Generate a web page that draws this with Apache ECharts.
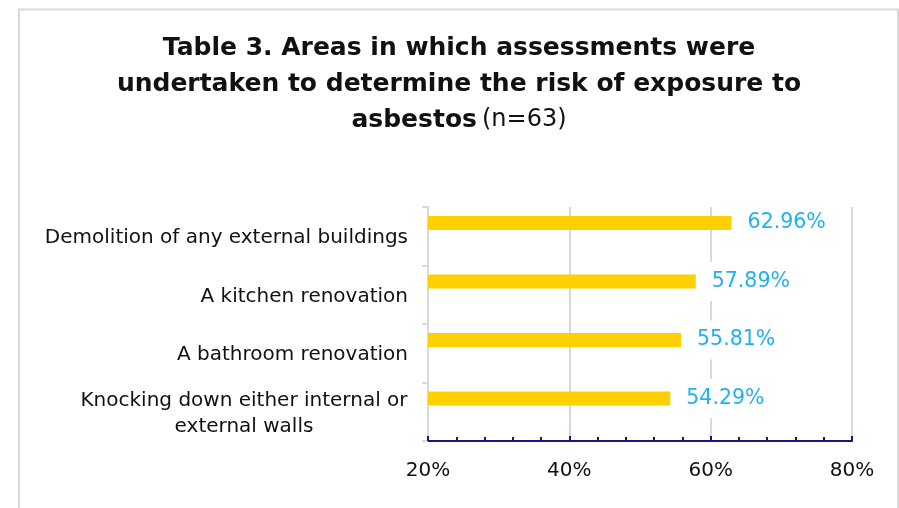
<!DOCTYPE html>
<html>
<head>
<meta charset="utf-8">
<script src="https://cdn.jsdelivr.net/npm/echarts@6/dist/echarts.min.js"></script>
<style>
  html, body { margin: 0; padding: 0; background: #fff; }
  #chart { width: 899px; height: 508px; }
</style>
</head>
<body>
<div id="chart"></div>
<script>
// Areas assessed for asbestos risk (n=63)
const categories = [
  'Demolition of any external buildings',
  'A kitchen renovation',
  'A bathroom renovation',
  'Knocking down either internal or\nexternal walls'
];
const percentValues = [62.96, 57.89, 55.81, 54.29];
const xTicks = [20, 40, 60, 80];

const FONT = '"DejaVu Sans", sans-serif';
const BAR_YELLOW = '#FFD000';
const LABEL_BLUE = '#1FB2EC';
const AXIS_NAVY = '#24107A';
const GRID_GREY = '#D9D9D9';

const chart = echarts.init(document.getElementById('chart'));

chart.setOption({
  animation: false,
  backgroundColor: '#fff',
  graphic: [
    {
      type: 'rect',
      shape: { x: 19, y: 9.5, width: 879, height: 600 },
      style: { fill: 'none', stroke: GRID_GREY, lineWidth: 2 },
      silent: true
    }
  ],
  title: {
    left: 459,
    top: 30,
    textAlign: 'center',
    padding: 0,
    text: '{b|Table 3. Areas in which assessments were}\n' +
          '{b|undertaken to determine the risk of exposure to}\n' +
          '{b|asbestos} {n|(n=63)}',
    textStyle: {
      rich: {
        b: { fontFamily: FONT, fontWeight: 'bold', fontSize: 25, lineHeight: 36, color: '#111' },
        n: { fontFamily: FONT, fontWeight: 'normal', fontSize: 24, lineHeight: 36, color: '#111' }
      }
    }
  },
  grid: {
    left: 428,
    right: 47,
    top: 207,
    bottom: 67
  },
  xAxis: {
    type: 'value',
    min: xTicks[0],
    max: xTicks[xTicks.length - 1],
    interval: 20,
    axisLine: { show: true, lineStyle: { color: AXIS_NAVY, width: 2 } },
    axisTick: { show: true, inside: true, length: 5, lineStyle: { color: AXIS_NAVY, width: 2 } },
    minorTick: { show: true, splitNumber: 5, length: 4, lineStyle: { color: AXIS_NAVY, width: 2 } },
    splitLine: { show: true, lineStyle: { color: GRID_GREY, width: 2 } },
    axisLabel: {
      margin: 20,
      fontFamily: FONT,
      fontSize: 20,
      color: '#111',
      formatter: '{value}%'
    }
  },
  yAxis: {
    type: 'category',
    inverse: true,
    data: categories,
    axisLine: { show: true, lineStyle: { color: GRID_GREY, width: 2 } },
    axisTick: { show: true, length: 6, lineStyle: { color: GRID_GREY, width: 2 } },
    axisLabel: {
      margin: 20,
      padding: [4, 0, 0, 0],
      fontFamily: FONT,
      fontSize: 20,
      lineHeight: 26,
      color: '#111',
      align: 'right',
      // the wrapped label has its lines centred under each other
      formatter: (v) => v.indexOf('\n') >= 0 ? '{w|' + v.split('\n').join('}\n{w|') + '}' : v,
      rich: {
        w: { fontFamily: FONT, fontSize: 20, lineHeight: 26, color: '#111', width: 328, align: 'center' }
      }
    }
  },
  series: [
    {
      type: 'bar',
      data: percentValues,
      barWidth: 14,
      barGap: '89%',
      itemStyle: { color: BAR_YELLOW },
      label: {
        show: true,
        position: 'right',
        distance: 8,
        padding: [12, 8, 6, 8],
        backgroundColor: '#fff',
        fontFamily: FONT,
        fontSize: 20.5,
        color: LABEL_BLUE,
        formatter: (p) => p.value.toFixed(2) + '%'
      }
    },
    {
      // empty companion series: keeps the bars in the upper half of each band
      type: 'bar',
      data: categories.map(() => '-'),
      barWidth: 14,
      itemStyle: { color: 'transparent' }
    }
  ]
});
</script>
</body>
</html>
